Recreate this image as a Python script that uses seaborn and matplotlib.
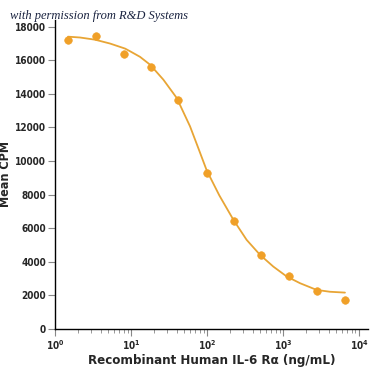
import matplotlib
matplotlib.use('Agg')
import matplotlib.pyplot as plt
import matplotlib.ticker as mticker
import seaborn as sns
import pandas as pd

# measured points
conc = [1.48, 3.46, 8.1, 18.3, 41.5, 100, 226, 513, 1200, 2800, 6600]
cpm = [17220, 17460, 16390, 15610, 13650, 9300, 6440, 4410, 3160, 2260, 1730]

# fitted curve
curve_x = [1.48, 2.13, 3.36, 5.29, 8.34, 9.7, 13.1, 17.8, 26.6, 39.9, 59.7,
           76.2, 99.1, 145, 222, 332, 498, 745, 1119, 1675, 2770, 4150, 6540]
curve_y = [17400, 17350, 17220, 16990, 16690, 16530, 16200, 15730, 14840, 13750, 12060,
           10800, 9430, 7950, 6500, 5300, 4410, 3710, 3120, 2720, 2320, 2210, 2160]

pts = pd.DataFrame({'conc': conc, 'cpm': cpm})
fit = pd.DataFrame({'conc': curve_x, 'cpm': curve_y})

sns.set_style("ticks")
plt.rcParams['font.family'] = ['DejaVu Sans']
plt.rcParams['font.stretch'] = 'condensed'

orange = '#F0A028'
fig = plt.figure(figsize=(3.75, 3.75), dpi=100)
ax = fig.add_axes([0.147, 0.123, 0.834, 0.824])

sns.lineplot(data=fit, x='conc', y='cpm', color='#E8A535', lw=1.3, ax=ax)
sns.scatterplot(data=pts, x='conc', y='cpm', color=orange, s=30, edgecolor=orange, zorder=3, ax=ax)

ax.set_xscale('log')
ax.set_xlim(1, 13100)
ax.set_ylim(0, 18400)
ax.set_yticks(range(0, 18001, 2000))
ax.xaxis.set_minor_locator(mticker.LogLocator(base=10, subs=range(2, 10)))
ax.xaxis.set_minor_formatter(mticker.NullFormatter())

sns.despine(ax=ax)
for s in ['left', 'bottom']:
    ax.spines[s].set_linewidth(1.0)
    ax.spines[s].set_color('black')
ax.tick_params(axis='both', which='major', length=5, width=0.8, color='#888888', labelsize=7.2, pad=1.5)
ax.tick_params(axis='x', which='minor', length=3, width=0.6, color='#888888')
for lab in ax.get_xticklabels() + ax.get_yticklabels():
    lab.set_fontweight('bold')

ax.set_xlabel('Recombinant Human IL-6 R\u03b1 (ng/mL)', fontsize=9.5, fontweight='bold', labelpad=1.5)
ax.set_ylabel('Mean CPM', fontsize=9, fontweight='bold')
ax.yaxis.set_label_coords(-0.137, 0.5)

fig.text(0.027, 0.957, 'with permission from R&D Systems', fontsize=9, style='italic', va='center',
         family=['Liberation Serif', 'DejaVu Serif'], color='#1a2340')

fig.savefig('out.png', dpi=100)
